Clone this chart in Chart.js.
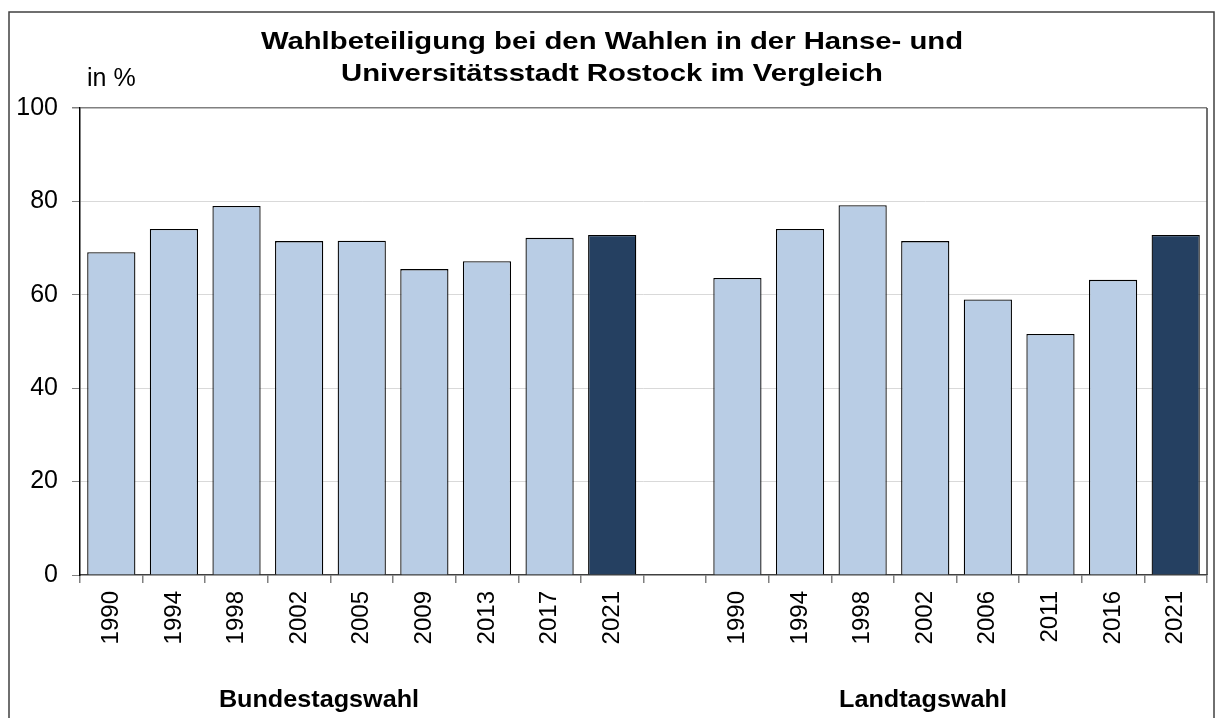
<!DOCTYPE html>
<html>
<head>
<meta charset="utf-8">
<script src="https://cdn.jsdelivr.net/npm/chart.js@4.4.1/dist/chart.umd.min.js"></script>
<style>
  body { margin: 0; background: #fff; }
</style>
</head>
<body>
<canvas id="chart" width="1215" height="718"></canvas>
<script>
const btwYears = ['1990', '1994', '1998', '2002', '2005', '2009', '2013', '2017', '2021'];
const btwValues = [69.1, 74.1, 79.0, 71.5, 71.6, 65.5, 67.2, 72.2, 72.8];
const ltwYears = ['1990', '1994', '1998', '2002', '2006', '2011', '2016', '2021'];
const ltwValues = [63.6, 74.1, 79.2, 71.5, 59.0, 51.6, 63.2, 72.8];
const yTicks = [0, 20, 40, 60, 80, 100];
const titleLines = ['Wahlbeteiligung bei den Wahlen in der Hanse- und', 'Universitätsstadt Rostock im Vergleich'];
const groupNames = ['Bundestagswahl', 'Landtagswahl'];

const lightBlue = '#b9cde5';
const darkBlue = '#254061';
const font = "'Liberation Sans', Arial, sans-serif";

// one empty category between the two groups
const labels = [...btwYears, '', ...ltwYears];
const values = [...btwValues, null, ...ltwValues];
const colors = labels.map((l, i) =>
  (i === btwYears.length - 1 || i === labels.length - 1) ? darkBlue : lightBlue);

// text drawn a bit wider, like the reference
function wideText(ctx, text, x, y, sx) {
  ctx.save();
  ctx.translate(x, y);
  ctx.scale(sx, 1);
  ctx.fillText(text, 0, 0);
  ctx.restore();
}

// frame, title, unit and group names
const extras = {
  id: 'extras',
  afterDraw(chart) {
    const ctx = chart.ctx;
    const area = chart.chartArea;
    ctx.save();
    ctx.strokeStyle = '#404040';
    ctx.lineWidth = 1.5;
    ctx.strokeRect(9, 12, 1205, 720);
    // right border of plot area
    ctx.beginPath();
    ctx.moveTo(area.right, area.top);
    ctx.lineTo(area.right, area.bottom);
    ctx.stroke();

    ctx.fillStyle = '#000';
    ctx.textAlign = 'center';
    ctx.textBaseline = 'alphabetic';
    ctx.font = 'bold 24px ' + font;
    wideText(ctx, titleLines[0], 612, 49, 1.22);
    wideText(ctx, titleLines[1], 612, 81, 1.22);

    ctx.font = '25px ' + font;
    ctx.textAlign = 'left';
    ctx.fillText('in %', 87, 86);

    ctx.font = 'bold 24px ' + font;
    ctx.textAlign = 'center';
    ctx.textBaseline = 'middle';
    wideText(ctx, groupNames[0], 319, 700, 1.05);
    wideText(ctx, groupNames[1], 923, 700, 1.05);
    ctx.restore();
  }
};

new Chart(document.getElementById('chart'), {
  type: 'bar',
  data: {
    labels: labels,
    datasets: [{
      data: values,
      backgroundColor: colors,
      borderColor: '#000',
      borderWidth: 1.3,
      categoryPercentage: 1,
      barPercentage: 0.77
    }]
  },
  options: {
    responsive: false,
    animation: false,
    layout: { padding: { top: 108, right: 8, left: 0, bottom: 0 } },
    plugins: {
      legend: { display: false },
      title: { display: false },
      tooltip: { enabled: false }
    },
    scales: {
      x: {
        afterFit(scale) { scale.height = 143; },
        grid: {
          drawOnChartArea: false,
          drawTicks: true,
          tickLength: 8,
          tickColor: '#808080',
          lineWidth: 1.5
        },
        border: { color: '#404040', width: 1.5 },
        ticks: {
          minRotation: 90,
          maxRotation: 90,
          autoSkip: false,
          padding: 8,
          color: '#000',
          font: { family: font, size: 24 }
        }
      },
      y: {
        min: 0,
        max: 100,
        afterFit(scale) { scale.width = 80; },
        afterBuildTicks(scale) { scale.ticks = yTicks.map(v => ({ value: v })); },
        grid: {
          color: ctx => ctx.tick.value === 100 ? '#808080' : (ctx.tick.value === 0 ? 'rgba(0,0,0,0)' : '#d9d9d9'),
          lineWidth: ctx => ctx.tick.value === 100 ? 1.5 : 1,
          tickColor: '#808080',
          tickLength: 8
        },
        border: { color: '#000', width: 1.5 },
        ticks: {
          padding: 14,
          color: '#000',
          font: { family: font, size: 25 }
        }
      }
    }
  },
  plugins: [extras]
});
</script>
</body>
</html>
